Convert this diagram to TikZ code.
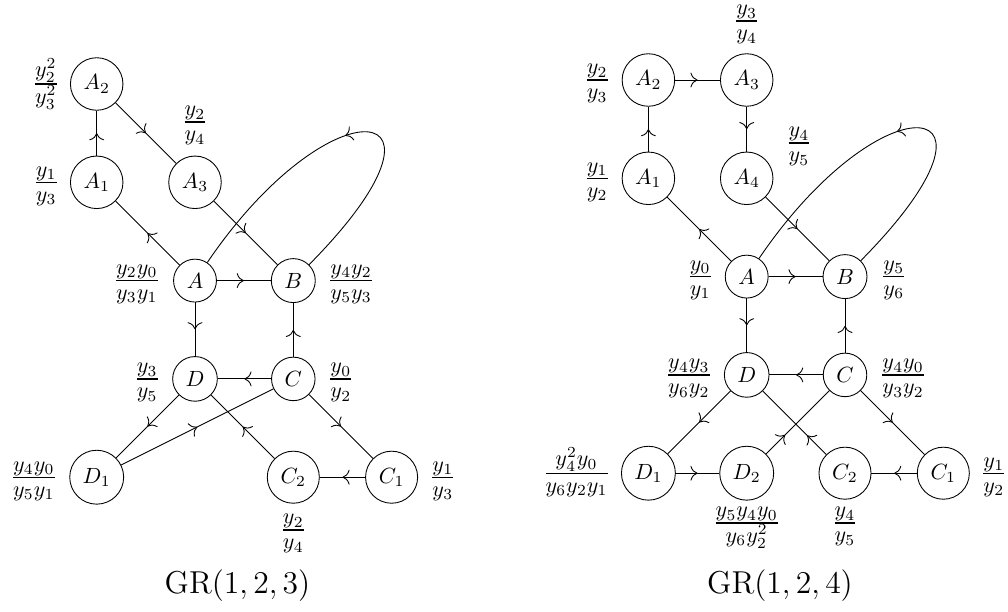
\documentclass[tikz,border=0pt]{standalone}
\usepackage{amsmath}
\usetikzlibrary{decorations.markings,arrows.meta}
\begin{document}
\begin{tikzpicture}[x=0.4545pt,y=-0.4545pt,
  vtx/.style={circle,draw},
  lab/.style={font=\Large,inner sep=0pt},
  labl/.style={lab,anchor=base east},
  labr/.style={lab,anchor=base west},
  labc/.style={lab,anchor=base},
  captext/.style={font=\Large,inner sep=0pt,anchor=base},
  marr/.style={postaction={decorate},decoration={markings,mark=at position #1 with {\arrow{Computer Modern Rightarrow[scale=1.3]}}}},
  mid/.style={marr=0.5}]
\useasboundingbox (0,0) rectangle (1008,611);
% ---------- left: GR(1,2,3) ----------
\node[vtx] (lA2) at (96.7,84) {$A_2$};
\node[vtx] (lA1) at (96.7,182.3) {$A_1$};
\node[vtx] (lA3) at (195,182.3) {$A_3$};
\node[vtx] (lA) at (195,280.6) {$A$};
\node[vtx] (lB) at (293.3,280.6) {$B$};
\node[vtx] (lD) at (195,378.9) {$D$};
\node[vtx] (lC) at (293.3,378.9) {$C$};
\node[vtx] (lD1) at (96.7,477.2) {$D_1$};
\node[vtx] (lC2) at (293.3,477.2) {$C_2$};
\node[vtx] (lC1) at (391.6,477.2) {$C_1$};
\draw[mid] (lA1) -- (lA2);
\draw[mid] (lA2) -- (lA3);
\draw[mid] (lA3) -- (lB);
\draw[mid] (lA) -- (lA1);
\draw[mid] (lA) -- (lB);
\draw[mid] (lB) .. controls (476,96) and (331.3,79.8) .. (lA);
\draw[mid] (lA) -- (lD);
\draw[mid] (lC) -- (lB);
\draw[mid] (lC) -- (lD);
\draw[mid] (lD) -- (lD1);
\draw[mid] (lD1) -- (lC);
\draw[mid] (lC2) -- (lD);
\draw[mid] (lC) -- (lC1);
\draw[mid] (lC1) -- (lC2);
\node[labl] (tlA2) at (59.6,92) {$\frac{y_2^2}{y_3^2}$};
\node[labl] (tlA1) at (59.6,190.2) {$\frac{y_1}{y_3}$};
\node[labc] (tlA3) at (195,130) {$\frac{y_2}{y_4}$};
\node[labl] (tlA) at (160.6,288.5) {$\frac{y_2y_0}{y_3y_1}$};
\node[labr] (tlB) at (327.4,288.5) {$\frac{y_4y_2}{y_5y_3}$};
\node[labl] (tlD) at (160.6,386.8) {$\frac{y_3}{y_5}$};
\node[labr] (tlC) at (327.4,386.8) {$\frac{y_0}{y_2}$};
\node[labl] (tlD1) at (57.6,485.1) {$\frac{y_4y_0}{y_5y_1}$};
\node[labc] (tlC2) at (293.3,538) {$\frac{y_2}{y_4}$};
\node[labr] (tlC1) at (429.4,485.1) {$\frac{y_1}{y_3}$};
\node[captext] (capl) at (237.5,593) {$\mathrm{GR}(1,2,3)$};
% ---------- right: GR(1,2,4) ----------
\node[vtx] (rA2) at (648.4,80) {$A_2$};
\node[vtx] (rA3) at (746.7,80) {$A_3$};
\node[vtx] (rA1) at (648.4,178.3) {$A_1$};
\node[vtx] (rA4) at (746.7,178.3) {$A_4$};
\node[vtx] (rA) at (746.7,276.6) {$A$};
\node[vtx] (rB) at (845,276.6) {$B$};
\node[vtx] (rD) at (746.7,374.9) {$D$};
\node[vtx] (rC) at (845,374.9) {$C$};
\node[vtx] (rD1) at (648.4,473.2) {$D_1$};
\node[vtx] (rD2) at (746.7,473.2) {$D_2$};
\node[vtx] (rC2) at (845,473.2) {$C_2$};
\node[vtx] (rC1) at (943.3,473.2) {$C_1$};
\draw[mid] (rA1) -- (rA2);
\draw[mid] (rA2) -- (rA3);
\draw[mid] (rA3) -- (rA4);
\draw[mid] (rA4) -- (rB);
\draw[mid] (rA) -- (rA1);
\draw[mid] (rA) -- (rB);
\draw[mid] (rB) .. controls (1027.7,92) and (883,75.8) .. (rA);
\draw[mid] (rA) -- (rD);
\draw[mid] (rC) -- (rB);
\draw[mid] (rC) -- (rD);
\draw[mid] (rD) -- (rD1);
\draw[mid] (rD1) -- (rD2);
\draw[marr=0.3] (rD2) -- (rC);
\draw[marr=0.3] (rC2) -- (rD);
\draw[mid] (rC) -- (rC1);
\draw[mid] (rC1) -- (rC2);
\node[labc] (trA3) at (746.7,29) {$\frac{y_3}{y_4}$};
\node[labl] (trA2) at (610.6,87.9) {$\frac{y_2}{y_3}$};
\node[labl] (trA1) at (610.6,186.2) {$\frac{y_1}{y_2}$};
\node[labc] (trA4) at (799,151) {$\frac{y_4}{y_5}$};
\node[labl] (trA) at (713.6,284.5) {$\frac{y_0}{y_1}$};
\node[labr] (trB) at (880.4,284.5) {$\frac{y_5}{y_6}$};
\node[labl] (trD) at (712.6,382.8) {$\frac{y_4y_3}{y_6y_2}$};
\node[labr] (trC) at (879.4,382.8) {$\frac{y_4y_0}{y_3y_2}$};
\node[labl] (trD1) at (610.6,481.1) {$\frac{y_4^2y_0}{y_6y_2y_1}$};
\node[labc] (trD2) at (746.7,531) {$\frac{y_5y_4y_0}{y_6y_2^2}$};
\node[labc] (trC2) at (845,531) {$\frac{y_4}{y_5}$};
\node[labr] (trC1) at (980.4,481.1) {$\frac{y_1}{y_2}$};
\node[captext] (capr) at (780,593) {$\mathrm{GR}(1,2,4)$};
\end{tikzpicture}
\end{document}
